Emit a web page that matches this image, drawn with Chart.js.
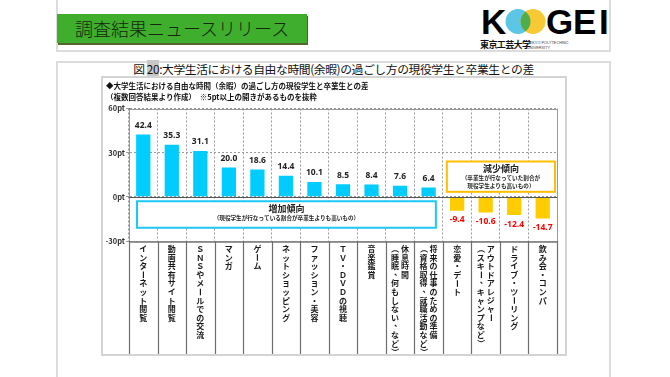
<!DOCTYPE html>
<html>
<head>
<meta charset="utf-8">
<script src="https://cdn.jsdelivr.net/npm/chart.js@4"></script>
<style>
  body { margin: 0; width: 670px; height: 377px; background: #fff; position: relative; overflow: hidden; font-family: "Noto Sans CJK JP", sans-serif; }
  .frame { position: absolute; border: 2px solid #dcdcdc; box-sizing: border-box; }
  #banner { position: absolute; left: 57px; top: 14px; width: 250px; height: 29px; background: #3eae2c; box-shadow: 1px 2px 0 #56652a; }
  #banner span { position: absolute; left: 18px; top: 3px; font-size: 18px; line-height: 22px; color: #17270f; font-weight: 300; letter-spacing: 0; }
  .logo { position: absolute; top: 4px; font-family: "Liberation Sans", Arial, sans-serif; font-weight: bold; font-size: 35px; line-height: 36px; color: #000; }
  #univ { position: absolute; left: 480px; top: 39px; font-size: 9px; line-height: 11px; font-weight: bold; letter-spacing: -0.6px; color: #111; }
  #univEn { position: absolute; left: 527px; top: 41px; font-family: "Liberation Sans", sans-serif; font-size: 7px; line-height: 8px; color: #444; transform: scale(0.55); transform-origin: 0 0; white-space: nowrap; }
  #figTitle { position: absolute; left: 57px; width: 553px; top: 61px; text-align: center; font-size: 11.8px; line-height: 15px; color: #111; letter-spacing: -0.4px; }
  #figTitle b { font-weight: normal; background: #c8c8c8; }
  #chartBox { position: absolute; left: 101px; top: 76px; width: 466px; height: 280px; border: 2px solid #d4d4d4; box-sizing: border-box; }
  #chart { position: absolute; left: 103px; top: 78px; }
</style>
</head>
<body>
<div class="frame" style="left:56px; top:-4px; width:555px; height:56px;"></div>
<div class="frame" style="left:56px; top:61px; width:555px; height:330px;"></div>
<div id="banner"><span>調査結果ニュースリリース</span></div>
<div class="logo" style="left:481px;">K</div>
<svg style="position:absolute; left:505px; top:8px;" width="42" height="27" viewBox="0 0 42 27">
  <defs><clipPath id="leftC"><circle cx="13" cy="13.5" r="12.5"/></clipPath></defs>
  <circle cx="13" cy="13.5" r="12.5" fill="#5cc6e6"/>
  <circle cx="28" cy="13.5" r="12.5" fill="#f8c935"/>
  <circle cx="28" cy="13.5" r="12.5" fill="#4fae4c" clip-path="url(#leftC)"/>
</svg>
<div class="logo" style="left:546px;">G</div>
<div class="logo" style="left:573px;">E</div>
<div class="logo" style="left:599px;">I</div>
<div id="univ">東京工芸大学</div>
<div id="univEn">TOKYO POLYTECHNIC<br>UNIVERSITY</div>
<div id="figTitle">図 <b>20</b>:大学生活における自由な時間(余暇)の過ごし方の現役学生と卒業生との差</div>
<div id="chartBox"></div>
<canvas id="chart" width="462" height="276"></canvas>

<script>
// カテゴリ（縦書き、2列目は補足）
const categories = [
  ['インターネット閲覧'],
  ['動画共有サイト閲覧'],
  ['ＳＮＳやメールでの交流'],
  ['マンガ'],
  ['ゲーム'],
  ['ネットショッピング'],
  ['ファッション・美容'],
  ['ＴＶ・ＤＶＤの視聴'],
  ['音楽鑑賞'],
  ['休息時間', '（睡眠、何もしない、など）'],
  ['将来の仕事のための準備', '（資格取得、就職活動など）'],
  ['恋愛・デート'],
  ['アウトドアレジャー', '（スキー、キャンプなど）'],
  ['ドライブ・ツーリング'],
  ['飲み会・コンパ']
];
// 現役学生 − 卒業生 (pt)
const diffValues = [42.4, 35.3, 31.1, 20.0, 18.6, 14.4, 10.1, 8.5, 8.4, 7.6, 6.4, -9.4, -10.6, -12.4, -14.7];
const yTicks = [-30, 0, 30, 60];

const headLine = '◆大学生活における自由な時間（余暇）の過ごし方の現役学生と卒業生との差';
const noteLine = '（複数回答結果より作成）　※5pt以上の開きがあるものを抜粋';

const jp = '"Noto Sans CJK JP", sans-serif';
Chart.defaults.font.family = jp;

// 縦書きで回転させる文字
const rotated = 'ー（）';

function noteBox(ctx, x1, x2, y1, y2, color, title, lines) {
  ctx.fillStyle = '#fff';
  ctx.fillRect(x1, y1, x2 - x1, y2 - y1);
  ctx.strokeStyle = color;
  ctx.lineWidth = 2;
  ctx.strokeRect(x1, y1, x2 - x1, y2 - y1);
  const cx = (x1 + x2) / 2;
  ctx.fillStyle = '#222';
  ctx.textAlign = 'center';
  ctx.textBaseline = 'middle';
  ctx.font = 'bold 9px ' + jp;
  ctx.fillText(title, cx, y1 + 7);
  ctx.font = 'bold 5.6px ' + jp;
  lines.forEach((t, k) => ctx.fillText(t, cx, y1 + 16.5 + k * 7.5));
}

const extras = {
  id: 'extras',
  afterDatasetsDraw(chart) {
    const { ctx, chartArea: a, scales: { x, y } } = chart;
    const step = x.getPixelForValue(1) - x.getPixelForValue(0);
    const edge = i => x.getPixelForValue(i) - step / 2;
    ctx.save();

    // 枠と0ライン
    ctx.lineWidth = 1;
    ctx.strokeStyle = '#999';
    ctx.strokeRect(Math.round(a.left) + 0.5, Math.round(a.top) + 0.5, Math.round(a.width), Math.round(a.height));
    const y0 = Math.round(y.getPixelForValue(0)) + 0.5;
    ctx.strokeStyle = '#555';
    ctx.beginPath();
    ctx.moveTo(a.left, y0);
    ctx.lineTo(a.right, y0);
    ctx.stroke();

    // ラベル欄の区切り線
    ctx.strokeStyle = '#6e6e6e';
    ctx.lineWidth = 1.2;
    for (let i = 0; i <= categories.length; i++) {
      const xe = Math.round(edge(i)) + 0.5;
      ctx.beginPath();
      ctx.moveTo(xe, a.bottom);
      ctx.lineTo(xe, chart.height);
      ctx.stroke();
    }

    // 値ラベル
    ctx.textAlign = 'center';
    ctx.textBaseline = 'middle';
    ctx.font = 'bold 8.5px "Noto Sans", sans-serif';
    chart.getDatasetMeta(0).data.forEach((bar, i) => {
      const v = diffValues[i];
      ctx.fillStyle = v < 0 ? '#ff0000' : '#222';
      ctx.fillText(v.toFixed(1), bar.x, v < 0 ? bar.y + 9 : bar.y - 9);
    });

    // 縦書きカテゴリ
    ctx.font = 'bold 8px ' + jp;
    ctx.fillStyle = '#1a1a1a';
    categories.forEach((cols, i) => {
      const cx = x.getPixelForValue(i);
      cols.forEach((text, c) => {
        const colX = cols.length === 1 ? cx : cx + (c === 0 ? 5 : -5);
        [...text].forEach((ch, k) => {
          const cy = a.bottom + 8 + k * 8.6;
          if (rotated.includes(ch)) {
            ctx.save();
            ctx.translate(colX, cy);
            ctx.rotate(Math.PI / 2);
            ctx.fillText(ch, 0, 0);
            ctx.restore();
          } else if (ch === '、') {
            ctx.fillText(ch, colX + 3, cy - 3);
          } else {
            ctx.fillText(ch, colX, cy);
          }
        });
      });
    });

    // 注記ボックス
    noteBox(ctx, edge(0) + 8, edge(11) - 7, y.getPixelForValue(-3), y.getPixelForValue(-21),
      '#1ec8f5', '増加傾向', ['（現役学生が行なっている割合が卒業生よりも高いもの）']);
    noteBox(ctx, edge(11) + 4, edge(15) - 2, y.getPixelForValue(24), y.getPixelForValue(3.4),
      '#ffbf00', '減少傾向', ['（卒業生が行なっていた割合が', '現役学生よりも高いもの）']);
    ctx.restore();
  }
};

new Chart(document.getElementById('chart'), {
  type: 'bar',
  data: {
    labels: categories.map(c => c.join('')),
    datasets: [{
      data: diffValues,
      backgroundColor: diffValues.map(v => v < 0 ? '#ffcc00' : '#00ccff'),
      barPercentage: 0.5,
      categoryPercentage: 1
    }]
  },
  options: {
    responsive: false,
    animation: false,
    layout: { padding: { left: 3, right: 8, top: 3.5, bottom: 0 } },
    plugins: {
      legend: { display: false },
      tooltip: { enabled: false },
      title: { display: true, text: headLine, align: 'start', color: '#111', font: { size: 7.5, weight: 'bold' }, padding: { top: 0, bottom: 0 } },
      subtitle: { display: true, text: noteLine, align: 'start', color: '#111', font: { size: 7.5, weight: 'bold' }, padding: { top: 2, bottom: 7 } }
    },
    scales: {
      x: {
        ticks: { display: false },
        grid: { color: '#9a9a9a', drawTicks: false },
        border: { color: '#888', dash: [2, 2] },
        afterFit: s => { s.height = 113; }
      },
      y: {
        min: -30,
        max: 60,
        afterBuildTicks: s => { s.ticks = yTicks.map(v => ({ value: v })); },
        ticks: { callback: v => v + 'pt', font: { size: 7.5, weight: 'bold' }, color: '#333', padding: 1 },
        grid: { color: '#9a9a9a', tickLength: 3 },
        border: { color: '#666', dash: [2, 2] },
        afterFit: s => { s.width = 23; }
      }
    }
  },
  plugins: [extras]
});
</script>
</body>
</html>
